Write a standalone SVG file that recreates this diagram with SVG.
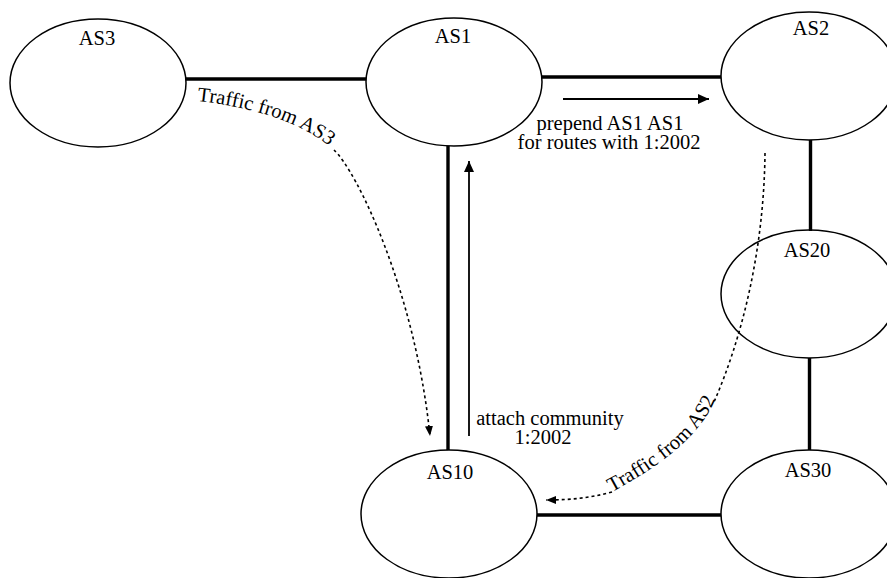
<svg xmlns="http://www.w3.org/2000/svg" xmlns:xlink="http://www.w3.org/1999/xlink" width="887" height="578" viewBox="0 0 887 578">
<style>
.node{fill:#fff;stroke:#000;stroke-width:1.5}
.lbl{font-family:"Liberation Serif","Times New Roman",serif;font-size:20.5px;fill:#000}
.link{stroke:#000;stroke-width:3.4;fill:none}
.thin{stroke:#000;stroke-width:1.8;fill:none}
.dot{stroke:#000;stroke-width:1.6;fill:none;stroke-dasharray:3 3}
</style>
<defs>
<marker id="ah" markerUnits="userSpaceOnUse" markerWidth="12" markerHeight="12" viewBox="0 0 12 12" refX="11" refY="6" orient="auto">
<path d="M0,1 L11,6 L0,11 Z" fill="#000"/>
</marker>
<marker id="ahd" markerUnits="userSpaceOnUse" markerWidth="11" markerHeight="10" viewBox="0 0 11 10" refX="10" refY="5" orient="auto">
<path d="M0,1 L10,5 L0,9 Z" fill="#000"/>
</marker>
<path id="tp3" d="M197,101 C245,106 300,120 334,150"/>
<path id="tp2" d="M612,492 C640,477 695,445 714,402"/>
</defs>
<g id="connectors">
<line class="link" x1="186" y1="79" x2="366" y2="79"/>
<line class="link" x1="542" y1="77" x2="721" y2="77"/>
<line class="link" x1="448" y1="146" x2="448" y2="451"/>
<line class="link" x1="810.5" y1="140" x2="810.5" y2="231"/>
<line class="link" x1="809.5" y1="358" x2="809.5" y2="451"/>
<line class="link" x1="537" y1="515" x2="721" y2="515"/>
<line class="thin" x1="563" y1="99" x2="709" y2="99" marker-end="url(#ah)"/>
<line class="thin" x1="469" y1="436" x2="469" y2="161" marker-end="url(#ah)"/>
<path class="dot" d="M334,150 C356,170 415,290 430,436" marker-end="url(#ahd)"/>
<path class="dot" d="M765,153 C764,250 742,338 714,402"/>
<path class="dot" d="M612,492 C590,498 570,500 546,500" marker-end="url(#ahd)"/>
<text class="lbl"><textPath xlink:href="#tp3" href="#tp3">Traffic from AS3</textPath></text>
<text class="lbl"><textPath xlink:href="#tp2" href="#tp2">Traffic from AS2</textPath></text>
<text class="lbl" x="610" y="130" text-anchor="middle">prepend AS1 AS1</text>
<text class="lbl" x="609" y="148.5" text-anchor="middle">for routes with 1:2002</text>
<text class="lbl" x="550" y="425" text-anchor="middle">attach community</text>
<text class="lbl" x="543" y="444" text-anchor="middle">1:2002</text>
</g>
<g id="AS3"><ellipse class="node" cx="98" cy="83" rx="88" ry="64"/><text class="lbl" x="97" y="45" text-anchor="middle">AS3</text></g>
<g id="AS1"><ellipse class="node" cx="454" cy="82" rx="88" ry="64"/><text class="lbl" x="453" y="43" text-anchor="middle">AS1</text></g>
<g id="AS2"><ellipse class="node" cx="809" cy="76" rx="88" ry="64"/><text class="lbl" x="811" y="35" text-anchor="middle">AS2</text></g>
<g id="AS20"><ellipse class="node" cx="809" cy="294" rx="88" ry="64" style="fill:none"/><text class="lbl" x="807" y="257" text-anchor="middle">AS20</text></g>
<g id="AS10"><ellipse class="node" cx="449" cy="514" rx="88" ry="64"/><text class="lbl" x="450" y="479" text-anchor="middle">AS10</text></g>
<g id="AS30"><ellipse class="node" cx="809" cy="514" rx="88" ry="64"/><text class="lbl" x="808" y="477" text-anchor="middle">AS30</text></g>
</svg>
